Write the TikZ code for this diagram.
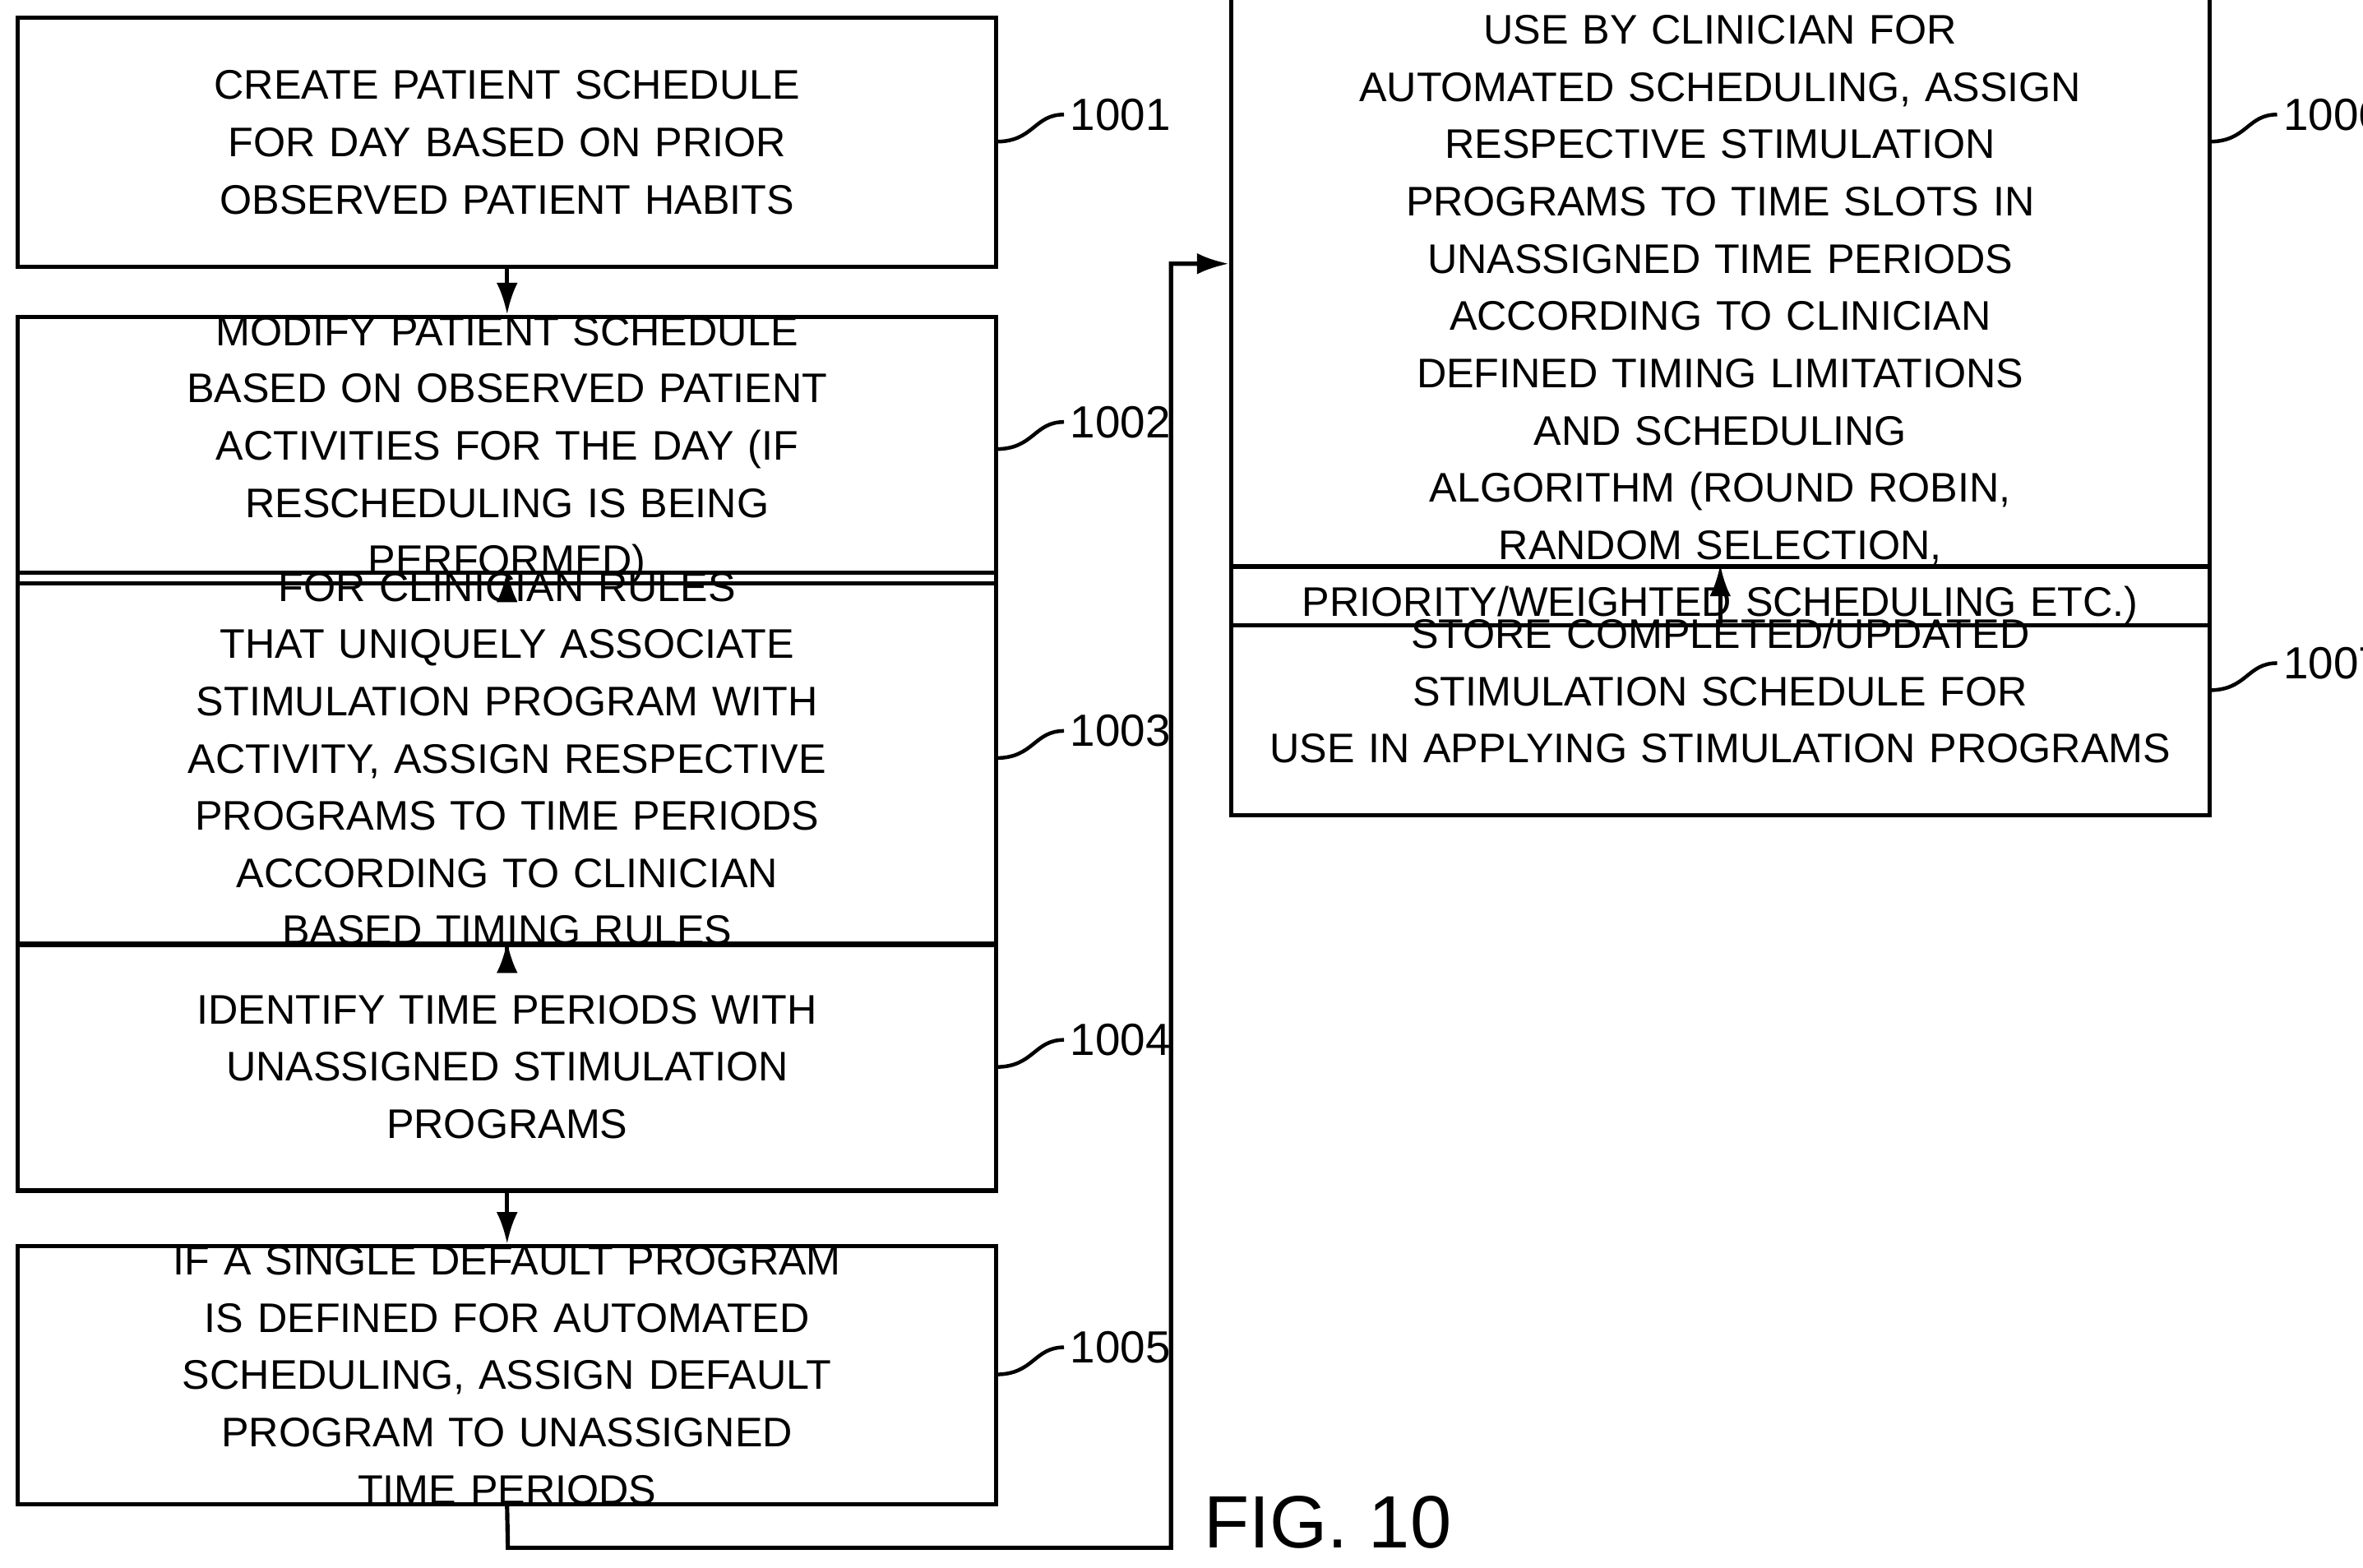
\documentclass[tikz,border=0pt]{standalone}
\usepackage{fontspec}
\usetikzlibrary{arrows.meta}
\setmainfont{Liberation Sans}
\newfontfamily\figfont{Liberation Sans}
\hyphenpenalty=10000 \exhyphenpenalty=10000
\begin{document}
\begin{tikzpicture}[x=0.01cm,y=-0.01cm,
 box/.style={draw,line width=0.8pt,inner sep=0pt,minimum width=6.49cm,minimum height=1.65cm,text width=6.2cm,align=center,font=\fontsize{7.8}{10.8}\selectfont},
 lbl/.style={font=\fontsize{8.5}{10.8}\selectfont,anchor=west},
 ar/.style={-{Latex[length=6pt,width=4pt]},line width=0.8pt}]
\useasboundingbox (0,0) rectangle (1568,1040);
\node[box] (b1) at (336.5,94.5) {CREATE PATIENT SCHEDULE FOR DAY BASED ON PRIOR\\ OBSERVED PATIENT HABITS};
\node[box] (b2) at (336.5,298.5) {MODIFY PATIENT SCHEDULE BASED ON OBSERVED PATIENT\\ ACTIVITIES FOR THE DAY (IF RESCHEDULING IS BEING\\ PERFORMED)};
\node[box] (b3) at (336.5,503.5) {FOR CLINICIAN RULES THAT UNIQUELY ASSOCIATE\\ STIMULATION PROGRAM WITH ACTIVITY, ASSIGN RESPECTIVE\\ PROGRAMS TO TIME PERIODS ACCORDING TO CLINICIAN\\ BASED TIMING RULES};
\node[box,minimum height=1.64cm] (b4) at (336.5,708) {IDENTIFY TIME PERIODS WITH UNASSIGNED STIMULATION\\ PROGRAMS};
\node[box] (b5) at (336.5,912.5) {IF A SINGLE DEFAULT PROGRAM IS DEFINED FOR AUTOMATED\\ SCHEDULING, ASSIGN DEFAULT PROGRAM TO UNASSIGNED\\ TIME PERIODS};
\node[box,minimum height=3.25cm] (b6) at (1141.5,174.5) {IF MULTIPLE STIMULATION PROGRAMS ARE ASSIGNED FOR\\ USE BY CLINICIAN FOR AUTOMATED SCHEDULING, ASSIGN\\ RESPECTIVE STIMULATION PROGRAMS TO TIME SLOTS IN\\ UNASSIGNED TIME PERIODS ACCORDING TO CLINICIAN\\ DEFINED TIMING LIMITATIONS AND SCHEDULING\\ ALGORITHM (ROUND ROBIN, RANDOM SELECTION,\\ PRIORITY/WEIGHTED SCHEDULING ETC.)};
\node[box] (b7) at (1141.5,458.5) {STORE COMPLETED/UPDATED STIMULATION SCHEDULE FOR\\ USE IN APPLYING STIMULATION PROGRAMS};
\draw[ar] (b1) -- (b2); \draw[ar] (b2) -- (b3); \draw[ar] (b3) -- (b4); \draw[ar] (b4) -- (b5); \draw[ar] (b6) -- (b7);
\coordinate (c1) at (337,1027); \coordinate (c2) at (777,1027); \coordinate (c3) at (777,175);
\draw[ar] (b5.south) -- (c1) -- (c2) -- (c3) -- (b6.west |- c3);
\foreach \y/\t/\xr in {94/1001/661,298/1002/661,503/1003/661,708/1004/661,912/1005/661,94/1006/1466,458/1007/1466}{
 \draw[line width=0.7pt] (\xr,\y) .. controls (\xr+25,\y) and (\xr+25,\y-18) .. (\xr+45,\y-18);
 \node[lbl,inner sep=1pt] (l\t) at (\xr+45,\y-18) {\t};}
\node[font=\figfont\fontsize{14}{14}\selectfont] (fig) at (881,1010) {FIG. 10};
\end{tikzpicture}
\end{document}
